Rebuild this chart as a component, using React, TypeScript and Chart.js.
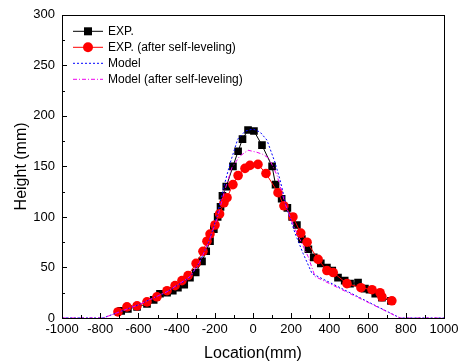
import React, { useEffect, useRef } from "react";
import { Chart, registerables } from "chart.js";

Chart.register(...registerables);

const FONT = "'Liberation Sans', Arial, sans-serif";

const xTickValues = [-1000, -800, -600, -400, -200, 0, 200, 400, 600, 800, 1000];
const yTickValues = [0, 50, 100, 150, 200, 250, 300];

const seriesLabels = ["EXP.", "EXP. (after self-leveling)", "Model", "Model (after self-leveling)"];

const expData: [number, number][] = [
  [-690, 7], [-655, 9], [-607, 11], [-555, 14], [-520, 18], [-487, 24], [-450, 25], [-420, 27],
  [-393, 30], [-360, 33], [-330, 40], [-300, 45], [-267, 56], [-245, 66], [-225, 76], [-205, 88],
  [-185, 100], [-170, 110], [-160, 121], [-140, 130], [-105, 150], [-78, 165], [-55, 177], [-26, 186],
  [5, 185], [47, 171], [100, 150], [118, 132], [150, 118], [180, 109], [205, 100], [230, 92],
  [256, 78], [290, 68], [318, 60], [355, 54], [387, 50], [415, 47], [445, 40], [480, 37],
  [508, 34], [550, 35], [586, 29], [610, 28], [640, 24], [675, 20], [722, 17],
];

const expLeveledData: [number, number][] = [
  [-707, 6], [-660, 11], [-607, 12], [-555, 16], [-503, 21], [-450, 27], [-408, 32], [-372, 37],
  [-340, 42], [-298, 54], [-262, 66], [-241, 76], [-225, 83], [-199, 92], [-175, 103], [-152, 114],
  [-136, 119], [-105, 132], [-78, 141], [-42, 148], [-16, 151], [26, 152], [68, 143], [131, 124],
  [162, 111], [209, 100], [250, 84], [283, 75], [341, 58], [387, 47], [420, 45], [492, 34],
  [565, 30], [623, 28], [665, 25], [675, 21], [727, 17],
];

const modelData: [number, number][] = [
  [-1000, 0], [-785, 0], [-600, 13], [-450, 26], [-330, 40], [-280, 55], [-230, 76], [-190, 100],
  [-157, 127], [-120, 153], [-80, 177], [-40, 185], [0, 187], [37, 184], [73, 176], [115, 154],
  [141, 137], [178, 108], [220, 84], [262, 64], [309, 44], [770, 0], [1000, 0],
];

const modelLeveledData: [number, number][] = [
  [-1000, 0], [-785, 0], [-600, 13], [-450, 26], [-330, 41], [-280, 55], [-230, 76], [-185, 100],
  [-150, 125], [-110, 149], [-70, 160], [-26, 166], [20, 164], [50, 162], [84, 158], [126, 141],
  [170, 112], [220, 88], [288, 61], [325, 41], [770, 0], [1000, 0],
];

const toPts = (arr: [number, number][]) => arr.map(([x, y]) => ({ x, y }));

const framePlugin = {
  id: "frame",
  afterDatasetsDraw(chart: any) {
    const { ctx, chartArea: a, scales } = chart;
    const xs = scales.x;
    const ys = scales.y;
    ctx.save();
    ctx.strokeStyle = "#000";
    ctx.lineWidth = 1;
    ctx.setLineDash([]);
    ctx.beginPath();
    for (let v = -1000; v <= 1000; v += 100) {
      const px = Math.round(xs.getPixelForValue(v)) + 0.5;
      const len = v % 200 === 0 ? 5 : 3;
      ctx.moveTo(px, a.bottom);
      ctx.lineTo(px, a.bottom - len);
    }
    for (let v = 0; v <= 300; v += 25) {
      const py = Math.round(ys.getPixelForValue(v)) + 0.5;
      const len = v % 50 === 0 ? 5 : 3;
      ctx.moveTo(a.left, py);
      ctx.lineTo(a.left + len, py);
    }
    ctx.stroke();
    ctx.strokeRect(Math.round(a.left) + 0.5, Math.round(a.top) + 0.5, Math.round(a.right - a.left), Math.round(a.bottom - a.top));

    // legend
    const x0 = a.left + 11;
    const x1 = x0 + 30;
    const tx = x1 + 5;
    let y = a.top + 16;
    ctx.font = `12px ${FONT}`;
    ctx.textBaseline = "middle";
    ctx.textAlign = "left";
    chart.data.datasets.forEach((ds: any) => {
      ctx.save();
      ctx.strokeStyle = ds.borderColor;
      ctx.lineWidth = 1;
      ctx.setLineDash(ds.borderDash || []);
      ctx.beginPath();
      ctx.moveTo(x0, y + 0.5);
      ctx.lineTo(x1, y + 0.5);
      ctx.stroke();
      ctx.setLineDash([]);
      const cx = (x0 + x1) / 2;
      if (ds.pointStyle === "rect" && ds.pointRadius > 0) {
        ctx.fillStyle = ds.pointBackgroundColor;
        ctx.fillRect(cx - 4, y - 3.5, 8, 8);
      } else if (ds.pointRadius > 0) {
        ctx.fillStyle = ds.pointBackgroundColor;
        ctx.beginPath();
        ctx.arc(cx, y + 0.5, 5, 0, Math.PI * 2);
        ctx.fill();
      }
      ctx.restore();
      ctx.fillStyle = "#000";
      ctx.fillText(ds.label, tx, y + 1);
      y += 16;
    });
    ctx.restore();
  },
};

export default function App() {
  const ref = useRef<HTMLCanvasElement>(null);
  useEffect(() => {
    const canvas = ref.current;
    if (!canvas) return;
    const chart = new Chart(canvas, {
      type: "line",
      data: {
        datasets: [
          {
            label: seriesLabels[0],
            data: toPts(expData),
            borderColor: "#000000",
            backgroundColor: "#000000",
            pointBackgroundColor: "#000000",
            pointBorderColor: "#000000",
            pointStyle: "rect",
            pointRadius: 5.4,
            pointBorderWidth: 0,
            borderWidth: 1,
            order: 3,
          },
          {
            label: seriesLabels[1],
            data: toPts(expLeveledData),
            borderColor: "#ff0000",
            backgroundColor: "#ff0000",
            pointBackgroundColor: "#ff0000",
            pointBorderColor: "#ff0000",
            pointStyle: "circle",
            pointRadius: 4.8,
            pointBorderWidth: 0,
            borderWidth: 1,
            order: 2,
          },
          {
            label: seriesLabels[2],
            data: toPts(modelData),
            borderColor: "#0000ff",
            backgroundColor: "#0000ff",
            pointBackgroundColor: "#0000ff",
            pointRadius: 0,
            borderWidth: 1,
            borderDash: [2, 2],
            order: 1,
          },
          {
            label: seriesLabels[3],
            data: toPts(modelLeveledData),
            borderColor: "#ee00ee",
            backgroundColor: "#ee00ee",
            pointBackgroundColor: "#ee00ee",
            pointRadius: 0,
            borderWidth: 1,
            borderDash: [4, 2, 1, 2],
            order: 0,
          },
        ],
      },
      options: {
        animation: false,
        responsive: false,
        maintainAspectRatio: false,
        layout: { padding: { top: 8, right: 19, left: 0, bottom: 0 } },
        plugins: {
          legend: { display: false },
          tooltip: { enabled: false },
        },
        scales: {
          x: {
            type: "linear",
            min: -1000,
            max: 1000,
            afterFit: (s: any) => { s.height = 46; },
            afterBuildTicks: (s: any) => { s.ticks = xTickValues.map((v) => ({ value: v })); },
            grid: { display: false, drawTicks: false },
            border: { display: false },
            ticks: {
              padding: 4,
              color: "#000",
              font: { family: FONT, size: 13 },
              maxRotation: 0,
              autoSkip: false,
              callback: (v: any) => String(v),
            },
            title: {
              display: true,
              text: "Location(mm)",
              color: "#000",
              font: { family: FONT, size: 16, lineHeight: 1.2 },
              padding: { top: 0, bottom: 1 },
            },
          },
          y: {
            type: "linear",
            min: 0,
            max: 300,
            afterFit: (s: any) => { s.width = 62; },
            afterBuildTicks: (s: any) => { s.ticks = yTickValues.map((v) => ({ value: v })); },
            grid: { display: false, drawTicks: false },
            border: { display: false },
            ticks: {
              padding: 7,
              color: "#000",
              font: { family: FONT, size: 13 },
              autoSkip: false,
              callback: (v: any) => String(v),
            },
            title: {
              display: true,
              text: "Height (mm)",
              color: "#000",
              font: { family: FONT, size: 16, lineHeight: 1.2 },
              padding: { top: 12, bottom: 0 },
            },
          },
        },
      },
      plugins: [framePlugin],
    } as any);
    return () => chart.destroy();
  }, []);
  return (
    <div style={{ position: "fixed", left: 0, top: 0, width: 463, height: 364, background: "#fff" }}>
      <canvas ref={ref} width={463} height={364} style={{ width: 463, height: 364, display: "block" }} />
    </div>
  );
}
